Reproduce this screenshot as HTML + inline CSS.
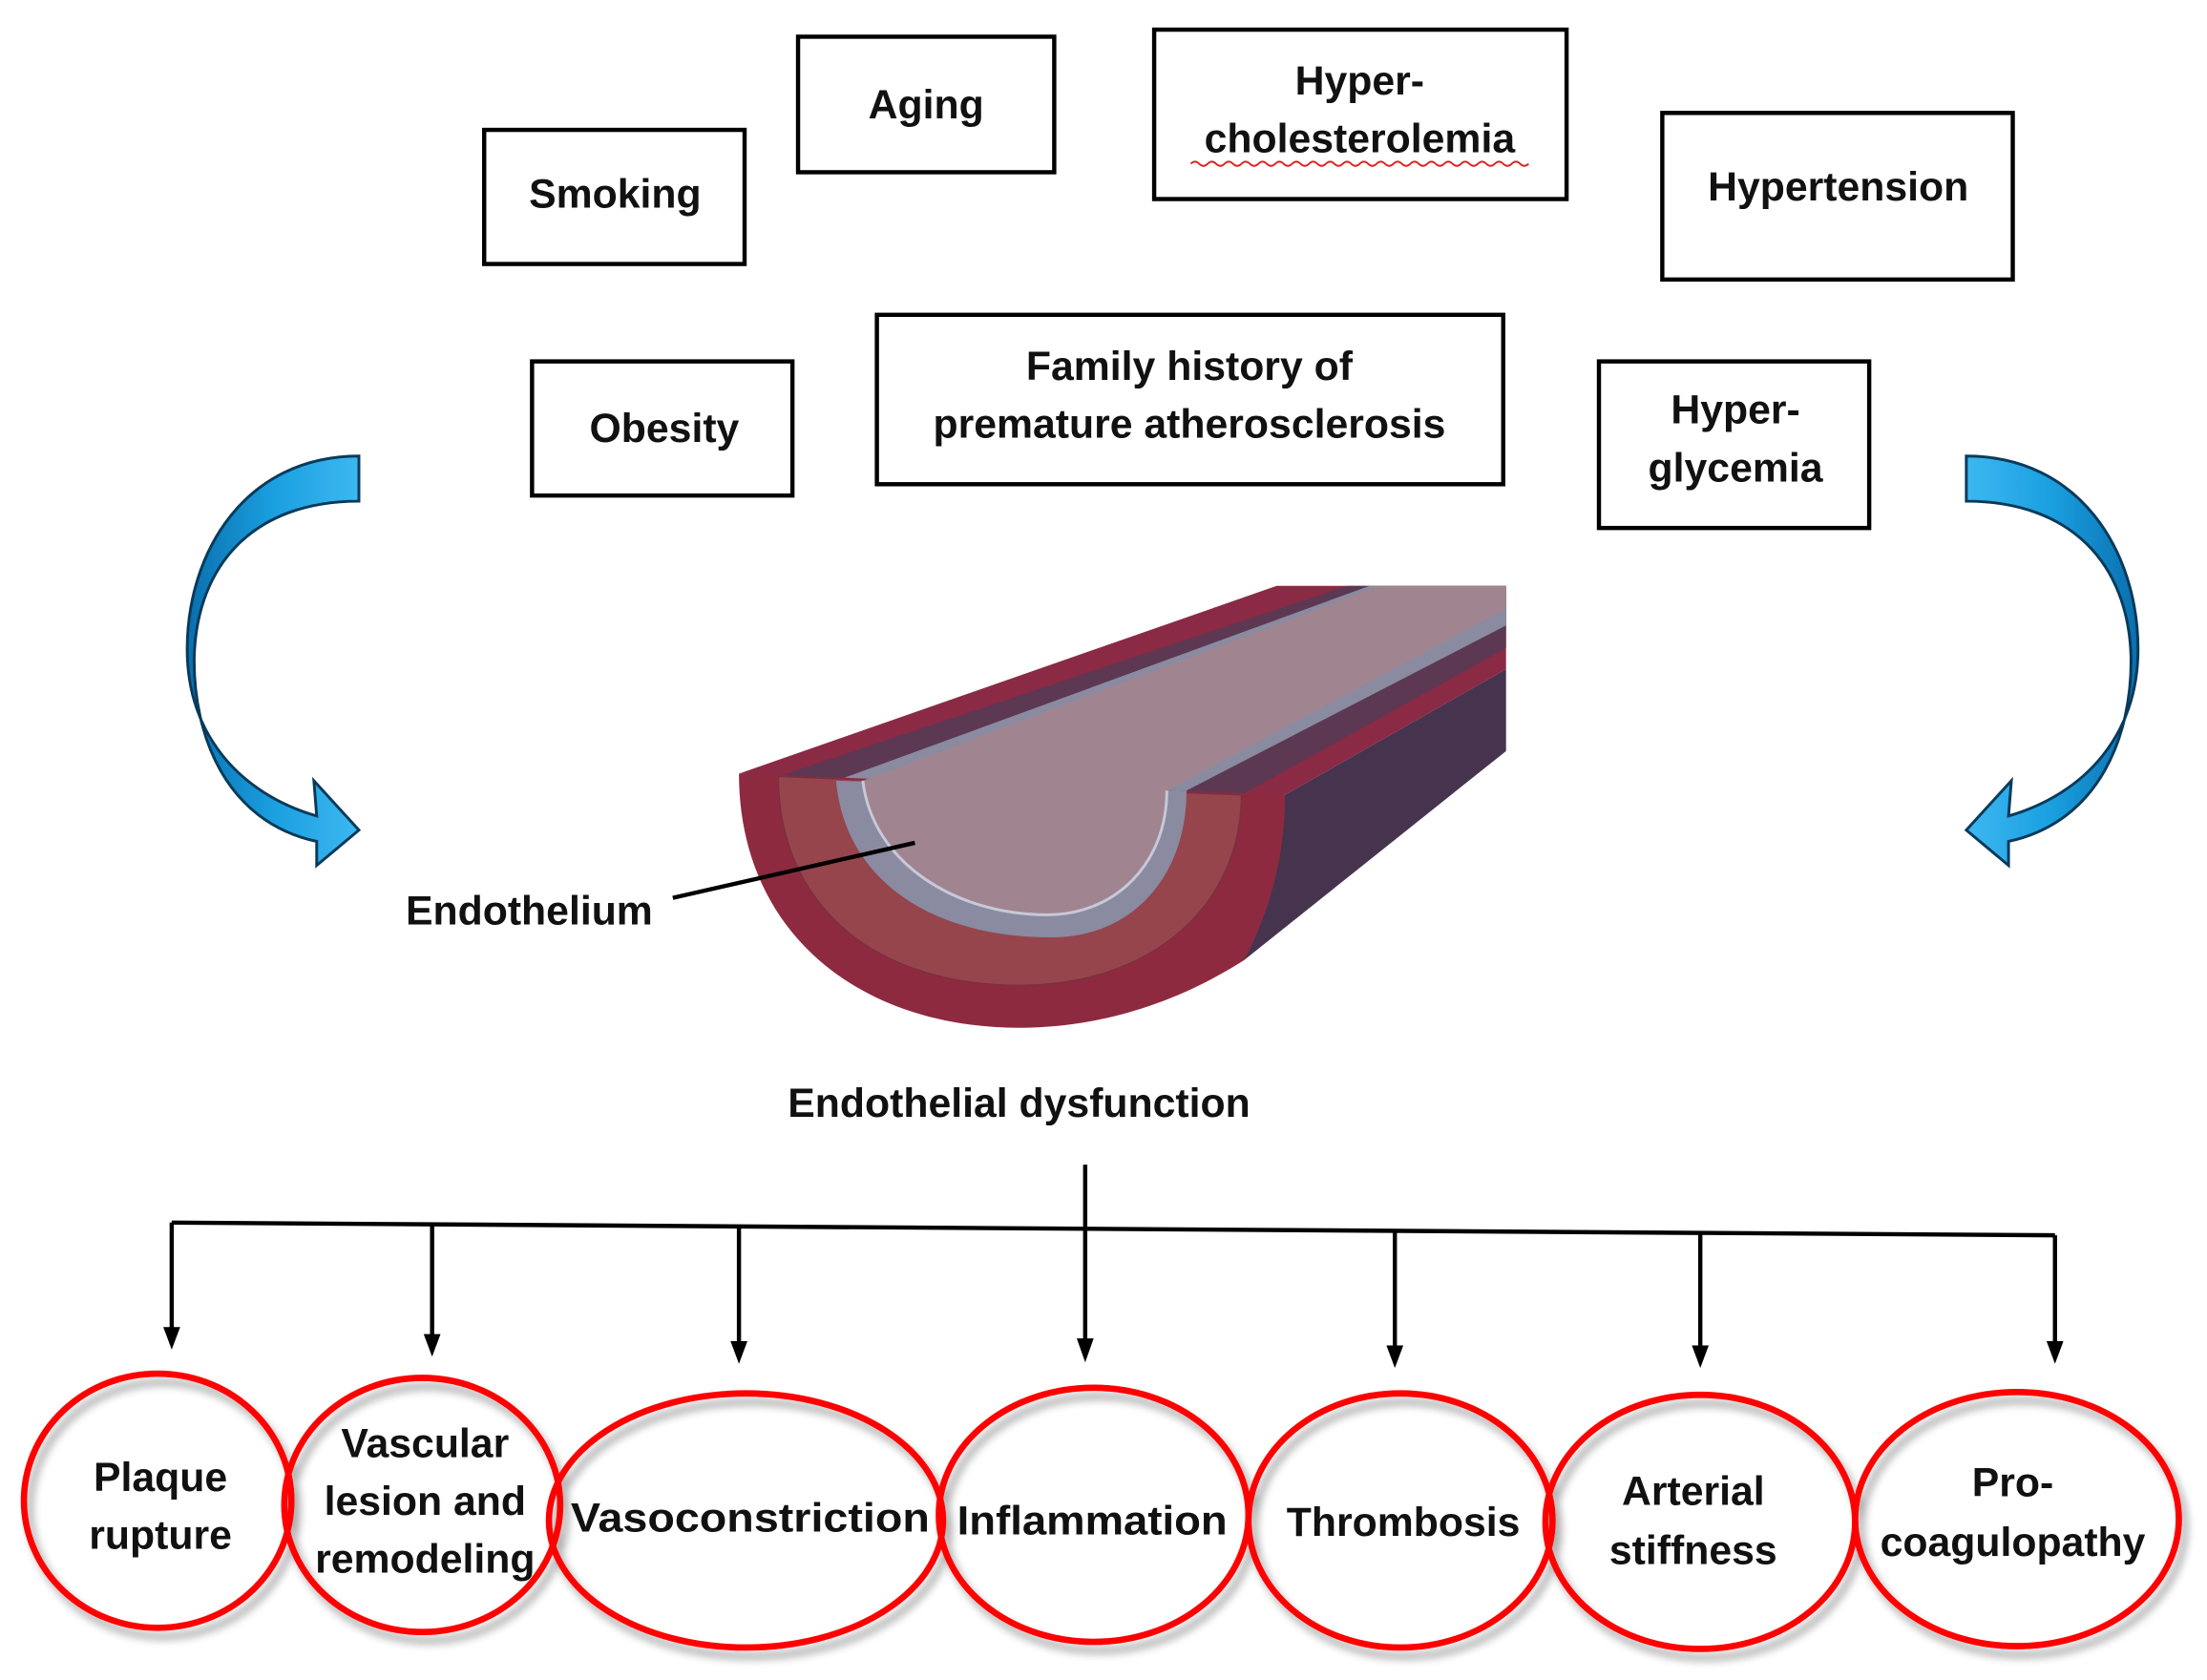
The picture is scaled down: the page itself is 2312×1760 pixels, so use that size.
<!DOCTYPE html>
<html><head><meta charset="utf-8"><style>
html,body{margin:0;padding:0;background:#fff}
svg{display:block}
text{font-family:"Liberation Sans",Arial,sans-serif;font-weight:bold;font-size:29px;fill:#111;text-anchor:middle}
</style></head><body>
<svg width="2312" height="1760" viewBox="0 0 1568 1190" preserveAspectRatio="none" xmlns="http://www.w3.org/2000/svg">
<defs>
<linearGradient id="bl" x1="0" y1="0" x2="1" y2="0">
<stop offset="0" stop-color="#0a6fae"/><stop offset="0.5" stop-color="#1a9fe0"/><stop offset="1" stop-color="#3cb8f0"/>
</linearGradient>
<filter id="sh" x="-20%" y="-20%" width="150%" height="150%"><feGaussianBlur in="SourceAlpha" stdDeviation="3"/><feOffset dx="4" dy="6"/><feComponentTransfer><feFuncA type="linear" slope="0.35"/></feComponentTransfer><feMerge><feMergeNode/><feMergeNode in="SourceGraphic"/></feMerge></filter>
</defs>

<g fill="#fff" stroke="#000" stroke-width="3">
<rect x="344" y="92" width="185" height="95"/>
<rect x="567" y="26" width="182" height="96"/>
<rect x="820" y="21" width="293" height="120"/>
<rect x="1181" y="80" width="249" height="118"/>
<rect x="378" y="256" width="185" height="95"/>
<rect x="623" y="223" width="445" height="120"/>
<rect x="1136" y="256" width="192" height="118"/>
</g>
<text x="437" y="147">Smoking</text>
<text x="658" y="84">Aging</text>
<text x="966" y="67">Hyper-</text>
<text x="966" y="108">cholesterolemia</text>
<path d="M846,116 q3,-3 6,0 t6,0 t6,0 t6,0 t6,0 t6,0 t6,0 t6,0 t6,0 t6,0 t6,0 t6,0 t6,0 t6,0 t6,0 t6,0 t6,0 t6,0 t6,0 t6,0 t6,0 t6,0 t6,0 t6,0 t6,0 t6,0 t6,0 t6,0 t6,0 t6,0 t6,0 t6,0 t6,0 t6,0 t6,0 t6,0 t6,0 t6,0 t6,0 t6,0" fill="none" stroke="#e02020" stroke-width="1.3"/>
<text x="1306" y="142">Hypertension</text>
<text x="472" y="313">Obesity</text>
<text x="845" y="269">Family history of</text>
<text x="845" y="310">premature atherosclerosis</text>
<text x="1233" y="300">Hyper-</text>
<text x="1233" y="341">glycemia</text>

<g id="la">
<path d="M255,323 C175,323 133,390 133,460 C133,520 170,562 225,578 L223,553 L255,588 L225,613 L225,596 C160,582 137,520 138,465 C140,400 180,355 255,355 Z" fill="url(#bl)" stroke="#0a3a5a" stroke-width="2"/>
</g>
<use href="#la" transform="translate(1652,0) scale(-1,1)"/>

<polygon points="913,563 1070,474 1070,532 884,680 826,707" fill="#46344f"/>
<polygon points="525,548 907,415 1070,415 1070,474 913,563 882,563 553,550" fill="#8b2a45"/>
<polygon points="553,550 957,415 1070,415 1070,459 882,563" fill="#5c3852"/>
<polygon points="594,553 973,415 1070,415 1070,443 843,560" fill="#8a8aa0"/>
<path d="M525,548 C525,660 610,728 724,728 C790,728 845,705 884,680 C905,640 913,600 913,563 Z" fill="#8e2a40"/>
<path d="M553,550 C553,640 620,698 724,698 C820,698 882,640 882,563 Z" fill="#96454d" stroke="#7a3040" stroke-width="1"/>
<path d="M594,553 C600,622 660,664 747,664 C805,664 843,620 843,560 Z" fill="#8a8aa0"/>
<path d="M613,553 L980,415 L1070,415 L1070,431 L829,560 C829,612 792,648 744,648 C680,648 620,612 613,553 Z" fill="#a08590"/>
<path d="M613,553 C620,612 680,648 744,648 C792,648 829,612 829,560" fill="none" stroke="#c8c8d8" stroke-width="2"/>

<line x1="478" y1="636" x2="650" y2="597" stroke="#000" stroke-width="3"/>
<text x="376" y="655">Endothelium</text>
<text x="724" y="791">Endothelial dysfunction</text>

<g stroke="#000" stroke-width="3" fill="none">
<line x1="771" y1="825" x2="771" y2="950"/>
<line x1="122" y1="866" x2="1460" y2="875"/>
<line x1="122" y1="866" x2="122" y2="942"/>
<line x1="307" y1="867" x2="307" y2="947"/>
<line x1="525" y1="869" x2="525" y2="952"/>
<line x1="991" y1="872" x2="991" y2="955"/>
<line x1="1208" y1="873" x2="1208" y2="955"/>
<line x1="1460" y1="875" x2="1460" y2="952"/>
</g>
<g fill="#000">
<polygon points="116,940 128,940 122,956"/>
<polygon points="301,945 313,945 307,961"/>
<polygon points="519,950 531,950 525,966"/>
<polygon points="765,948 777,948 771,965"/>
<polygon points="985,953 997,953 991,969"/>
<polygon points="1202,953 1214,953 1208,969"/>
<polygon points="1454,950 1466,950 1460,966"/>
</g>

<g fill="none" stroke="#ff0000" stroke-width="4.5" filter="url(#sh)">
<ellipse cx="112" cy="1063" rx="95" ry="90"/>
<ellipse cx="300" cy="1066" rx="98" ry="90"/>
<ellipse cx="530" cy="1077" rx="140" ry="90"/>
<ellipse cx="777" cy="1073" rx="110" ry="90"/>
<ellipse cx="995" cy="1077" rx="108" ry="90"/>
<ellipse cx="1208" cy="1078" rx="110" ry="90"/>
<ellipse cx="1433" cy="1076" rx="115" ry="90"/>
</g>
<text x="114" y="1056">Plaque</text>
<text x="114" y="1097">rupture</text>
<text x="302" y="1032">Vascular</text>
<text x="302" y="1073">lesion and</text>
<text x="302" y="1114">remodeling</text>
<text x="533" y="1085" textLength="255" lengthAdjust="spacingAndGlyphs">Vasoconstriction</text>
<text x="776" y="1087" textLength="192" lengthAdjust="spacingAndGlyphs">Inflammation</text>
<text x="997" y="1088">Thrombosis</text>
<text x="1203" y="1066">Arterial</text>
<text x="1203" y="1108">stiffness</text>
<text x="1430" y="1060">Pro-</text>
<text x="1430" y="1102">coagulopathy</text>
</svg>
</body></html>
